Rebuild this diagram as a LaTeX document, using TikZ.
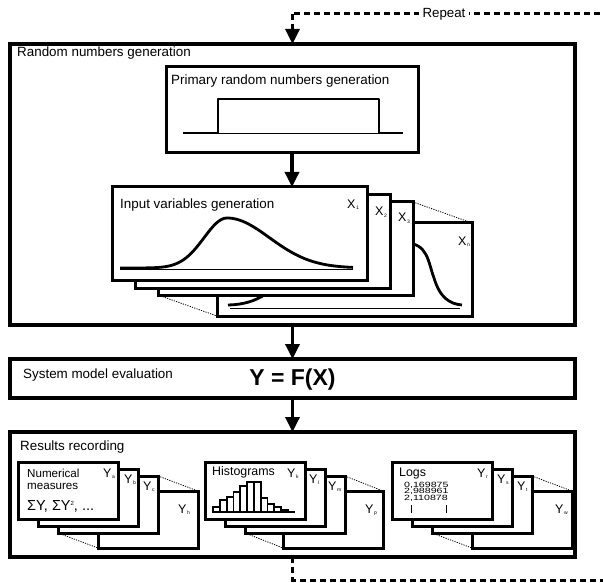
\documentclass[tikz,border=0pt]{standalone}
\usepackage{fontspec}
\setmainfont{Liberation Sans}
\newfontfamily\logfont[FakeStretch=1.4]{Liberation Sans}
\usetikzlibrary{arrows.meta, positioning}

\newcommand{\sublbl}[2]{#1\kern0.5pt\raisebox{-1.6pt}{\fontsize{5}{5}\selectfont #2}}

\begin{document}
\begin{tikzpicture}[x=1pt, y=-1pt,
  frame/.style={draw, line width=3.4pt, fill=white, inner sep=0pt, outer sep=0pt, anchor=north west},
  card/.style={draw, line width=3pt, fill=white, inner sep=0pt, outer sep=0pt, anchor=north west},
  lbl/.style={font=\fontsize{13.4}{16}\selectfont, anchor=base west, inner sep=0pt},
  cardlbl/.style={font=\fontsize{12.4}{14}\selectfont, anchor=base west, inner sep=0pt},
  idx/.style={font=\fontsize{12.5}{14}\selectfont, anchor=base west, inner sep=0pt},
  loglbl/.style={font=\logfont\fontsize{7.6}{8}\selectfont, anchor=base west, inner sep=0pt},
  flow/.style={line width=3.4pt, -{Triangle[width=14pt,length=15pt]}},
  repeatline/.style={line width=3pt, dash pattern=on 6pt off 4pt},
  gap/.style={line width=0.8pt, dash pattern=on 1.2pt off 1.2pt},
  curve/.style={line width=2.8pt, line join=round},
  axis/.style={line width=0.9pt},
  bar/.style={draw, fill=white, line width=1.8pt},
]
\fill[white] (0,0) rectangle (603,583);
\useasboundingbox (0,0) rectangle (603,583);

% random numbers generation
\node[frame, minimum width=565pt, minimum height=281pt] (rng) at (10,44) {};
\node[lbl] (rnglbl) at (17,57) {Random numbers generation};

\node[frame, line width=3pt, minimum width=252pt, minimum height=86pt] (prim) at (166,67) {};
\node[lbl] (primlbl) at (171,85) {Primary random numbers generation};
\draw[axis] (218,133) -- (379,133);
\draw[curve] (183,133) -- (218,133) -- (218,99) -- (379,99) -- (379,133) -- (403,133);

% input variables, back to front
\node[card, minimum width=255pt, minimum height=93pt] (xn) at (217,223) {};
\draw[axis] (230,308) -- (460,308);
\draw[curve] (228,305) .. controls (290,304) and (290,243) .. (330,243) -- (405,243)
  .. controls (428,243) and (428,262) .. (434,278) .. controls (440,298) and (450,304) .. (462,305);
\node[idx] (xnlbl) at (458,245) {\sublbl{X}{n}};

\node[card, minimum width=255pt, minimum height=93pt] (x3) at (158,202) {};
\node[idx] (x3lbl) at (398,222) {\sublbl{X}{3}};
\node[card, minimum width=255pt, minimum height=93pt] (x2) at (135,195) {};
\node[idx] (x2lbl) at (375,216) {\sublbl{X}{2}};
\node[card, minimum width=255pt, minimum height=93pt] (x1) at (112,187) {};
\node[lbl] (x1txt) at (120,208) {Input variables generation};
\node[idx] (x1lbl) at (347,208) {\sublbl{X}{1}};
\draw[axis] (120,269) -- (353,269);
\draw[curve] plot[samples=40, domain=120:227] (\x, {268-50*exp(-((\x-227)/32.4)^2)})
  -- plot[samples=50, domain=227:353] (\x, {268-50*exp(-((\x-227)/60)^2)});

\draw[gap] (x3.north east) -- (xn.north east);
\draw[gap] (x3.south west) -- (xn.south west);

\draw[flow] (prim.south) -- (prim.south |- x1.north);

% system model evaluation
\node[frame, minimum width=565pt, minimum height=39pt] (sme) at (10,359) {};
\node[lbl] (smelbl) at (23,378) {System model evaluation};
\node[font=\fontsize{23}{25}\selectfont\bfseries, inner sep=0pt] (model) at (292.5,380) {Y = F(X)};
\draw[flow] (rng.south) -- (sme.north);

% results recording
\node[frame, minimum width=565pt, minimum height=125pt] (res) at (10,432) {};
\node[lbl] (reslbl) at (20,450) {Results recording};
\draw[flow] (sme.south) -- (res.north);

% numerical measures
\node[card, minimum width=100pt, minimum height=57pt] (yh) at (98,491) {};
\node[idx] at (178,513) {\sublbl{Y}{h}};
\node[card, minimum width=100pt, minimum height=57pt] (yc) at (58,476) {};
\node[idx] at (143,490) {\sublbl{Y}{c}};
\node[card, minimum width=100pt, minimum height=57pt] (yb) at (38,469) {};
\node[idx] at (124,483) {\sublbl{Y}{b}};
\node[card, minimum width=100pt, minimum height=57pt] (ya) at (18,462) {};
\node[idx] at (103,477) {\sublbl{Y}{a}};
\node[font=\fontsize{11.6}{11.5}\selectfont, align=left, anchor=north west, inner sep=0pt]
  (numlbl) at (27,469) {Numerical\\measures};
\node[font=\fontsize{14.5}{16}\selectfont, anchor=base west, inner sep=0pt] (sums) at (27,510)
  {ΣY, ΣY\raisebox{5pt}{\fontsize{6}{6}\selectfont 2}, ...};
\draw[gap] (yc.north east) -- (yh.north east);
\draw[gap] (yc.south west) -- (yh.south west);

% histograms
\node[card, minimum width=100pt, minimum height=57pt] (yp) at (283,491) {};
\node[idx] at (365,513) {\sublbl{Y}{p}};
\node[card, minimum width=100pt, minimum height=57pt] (ym) at (245,476) {};
\node[idx] at (328,490) {\sublbl{Y}{m}};
\node[card, minimum width=100pt, minimum height=57pt] (yl) at (225,469) {};
\node[idx] at (309,483) {\sublbl{Y}{l}};
\node[card, minimum width=100pt, minimum height=57pt] (yk) at (205,462) {};
\node[idx] at (287,477) {\sublbl{Y}{k}};
\node[cardlbl] (histlbl) at (212,475) {Histograms};
\draw[bar] (213,512) rectangle (219.8,507) (219.8,512) rectangle (226.6,500)
  (226.6,512) rectangle (233.4,497) (233.4,512) rectangle (240.2,492)
  (240.2,512) rectangle (247,486) (247,512) rectangle (253.8,482)
  (253.8,512) rectangle (260.6,482) (260.6,512) rectangle (267.4,498)
  (267.4,512) rectangle (274.2,504) (274.2,512) rectangle (281,507)
  (281,512) rectangle (287.8,510);
\draw[line width=2.8pt] (212,512) -- (295,512);
\draw[gap] (ym.north east) -- (yp.north east);
\draw[gap] (ym.south west) -- (yp.south west);

% logs
\node[card, minimum width=100pt, minimum height=57pt] (yw) at (472,491) {};
\node[idx] at (555,513) {\sublbl{Y}{w}};
\node[card, minimum width=100pt, minimum height=57pt] (yt) at (432,476) {};
\node[idx] at (517,490) {\sublbl{Y}{t}};
\node[card, minimum width=100pt, minimum height=57pt] (ys) at (412,469) {};
\node[idx] at (497,483) {\sublbl{Y}{s}};
\node[card, minimum width=100pt, minimum height=57pt] (yr) at (392,462) {};
\node[idx] at (477,477) {\sublbl{Y}{r}};
\node[cardlbl] (loglbl) at (399,476) {Logs};
\node[loglbl] (log1) at (404,487) {0,169875};
\node[loglbl] (log2) at (404,493.5) {2,988961};
\node[loglbl] (log3) at (404,500) {2,110878};
\draw[axis] (411,505) -- (411,513) (446,505) -- (446,513);
\draw[gap] (yt.north east) -- (yw.north east);
\draw[gap] (yt.south west) -- (yw.south west);

% repeat loop
\coordinate (repin) at (292.5,14);
\coordinate (topend) at (610,14);
\coordinate (botend) at (610,580);
\draw[repeatline] (topend) -- (repin);
\draw[repeatline, -{Triangle[width=14pt,length=15pt]}] (repin) -- (rng.north);
\node[fill=white, font=\fontsize{13.3}{15}\selectfont, inner xsep=4pt, inner ysep=1pt] (rep) at (444,14) {Repeat};
\draw[repeatline] (res.south) -- (res.south |- botend) -- (botend);
\end{tikzpicture}
\end{document}
